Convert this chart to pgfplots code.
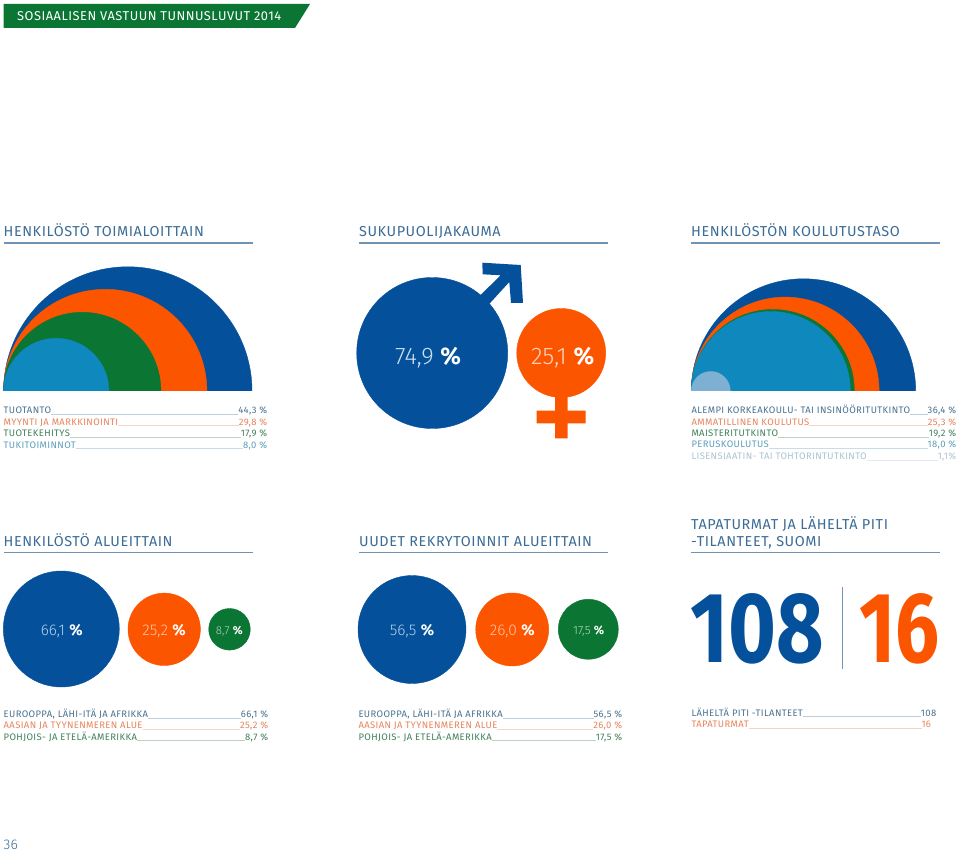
\documentclass[border=0pt]{standalone}
\usepackage{fontspec}
\usepackage{pgfplots}
\pgfplotsset{compat=1.18}
\setmainfont{Fira Sans}
\newfontfamily\din[LetterSpace=4]{Fira Sans}
\newfontfamily\dinl{Fira Sans Light}
\definecolor{cblue}{HTML}{04509B}
\definecolor{corange}{HTML}{FC5500}
\definecolor{cgreen}{HTML}{0B7533}
\definecolor{clight}{HTML}{0F88BE}
\definecolor{cpale}{HTML}{7DB0D2}
\definecolor{ctitle}{HTML}{3B6C96}
\definecolor{crule}{HTML}{6F93B5}
\definecolor{tblue}{HTML}{48708F}
\definecolor{torange}{HTML}{E8825A}
\definecolor{tgreen}{HTML}{3F7F5A}
\definecolor{tlight}{HTML}{5C9DB9}
\definecolor{tpale}{HTML}{A9C3D1}

\pgfplotsset{
  page/.style={width=960pt,height=853pt,scale only axis,hide axis,
    xmin=0,xmax=960,ymin=0,ymax=853,y dir=reverse,clip=false},
  bubble/.style={scatter,only marks,mark=*,scatter src=x,
    scatter/use mapped color={draw=#1,fill=#1},
    visualization depends on={\thisrow{r}\as\rad},
    scatter/@pre marker code/.append style={/tikz/mark size=\rad}},
  shape/.style={fill=#1,draw=none,mark=none},
}
% label ___ value row, x y width colour label value
\newcommand{\tabrow}[6]{\node[anchor=base west,inner sep=0pt,text=#4] at (axis cs:#1,#2)
  {\din\fontsize{9.45}{11}\selectfont\hbox to #3pt{#5{\color{#4!35!white}\leaders\hrule height -0.4pt depth 0.9pt\hfill}#6}};}
\newcommand{\sect}[3]{\node[anchor=base west,inner sep=0pt,text=ctitle] at (axis cs:#1,#2)
  {\din\fontsize{14.4}{16}\selectfont #3};}
\newcommand{\bub}[5]{\node[inner sep=0pt,text=#4] at (axis cs:#1,#2)
  {\fontsize{#3}{#3}\selectfont\dinl #5 \textcolor{white}{\bfseries\rmfamily\%}};}

\begin{document}
\begin{tikzpicture}
\useasboundingbox (0,0) rectangle (960pt,853pt);

% half circles, clipped at their common baseline
\begin{axis}[width=960pt,height=391pt,scale only axis,hide axis,at={(0pt,462pt)},anchor=south west,
  xmin=0,xmax=960,ymin=0,ymax=391,y dir=reverse,clip=true,clip marker paths=true]
\addplot[bubble=cblue] table {
x y r
127.8 391 124.2
803.5 391 112.2
};
\addplot[bubble=corange] table {
x y r
105.2 391 101.7
785.2 391 93.9
};
\addplot[bubble=cgreen] table {
x y r
82.2 391 78.7
772.8 391 81.5
};
\addplot[bubble=clight] table {
x y r
56.2 391 52.7
770.8 391 79.5
};
\addplot[bubble=cpale] table {
x y r
710.8 391 19.5
};
\end{axis}

% shapes and full circles
\begin{axis}[page]
\addplot[shape=cgreen] coordinates {(3.5,4) (310,4) (295,28) (3.5,28)} --cycle;
\addplot[crule,line width=1.3pt,mark=none] coordinates {(3.5,243) (253,243)};
\addplot[crule,line width=1.3pt,mark=none] coordinates {(359,243) (608,243)};
\addplot[crule,line width=1.3pt,mark=none] coordinates {(691,243) (940,243)};
\addplot[crule,line width=1.3pt,mark=none] coordinates {(3.5,552.7) (253,552.7)};
\addplot[crule,line width=1.3pt,mark=none] coordinates {(359,552.7) (608,552.7)};
\addplot[crule,line width=1.3pt,mark=none] coordinates {(691,552.7) (940,552.7)};
\addplot[crule,line width=1.2pt,mark=none] coordinates {(842.7,587.3) (842.7,669.3)};

\addplot[shape=cblue] coordinates {(482.3,262.7) (520.7,265) (523,303) (511,303) (509.3,282) (470,325) (460,315) (500.7,275.3) (482.7,274.3)} --cycle;
\addplot[shape=corange] coordinates {(555,390) (567.7,390) (567.7,410.7) (585.7,410.7) (585.7,423.3) (567.7,423.3) (567.7,438.3) (555,438.3) (555,423.3) (536.7,423.3) (536.7,410.7) (555,410.7)} --cycle;

\addplot[bubble=cblue] table {
x y r
432.2 353 75.5
61.3 629 58
412 629.5 54
};
\addplot[bubble=corange] table {
x y r
561.2 353 44.5
164.2 629.3 36.2
512.2 629.5 36.5
};
\addplot[bubble=cgreen] table {
x y r
229.5 629.3 20.8
588.3 629.3 30
};
\end{axis}

% all text on top
\begin{axis}[page]
\addplot[draw=none,forget plot] coordinates {(0,0) (960,853)};
\node[anchor=base west,inner sep=0pt,text=white] at (axis cs:17,21)
  {\din\fontsize{12.8}{15}\selectfont SOSIAALISEN VASTUUN TUNNUSLUVUT 2014};

\sect{3.5}{236}{HENKILÖSTÖ TOIMIALOITTAIN}
\sect{359}{236}{SUKUPUOLIJAKAUMA}
\sect{691}{236}{HENKILÖSTÖN KOULUTUSTASO}
\sect{3.5}{546}{HENKILÖSTÖ ALUEITTAIN}
\sect{359}{546}{UUDET REKRYTOINNIT ALUEITTAIN}
\sect{691}{529}{TAPATURMAT JA LÄHELTÄ PITI}
\sect{691}{546}{-TILANTEET, SUOMI}

\bub{428}{357.5}{24}{cpale!40!white}{74,9}
\bub{562.7}{357.5}{24}{corange!25!white}{25,1}
\bub{61.7}{631.5}{15.5}{cpale!60!white}{66,1}
\bub{164}{631.5}{15.5}{corange!35!white}{25,2}
\bub{229.3}{631}{11.5}{cgreen!30!white}{8,7}
\bub{412}{631.5}{15.5}{cpale!60!white}{56,5}
\bub{512.3}{631.5}{15.5}{corange!35!white}{26,0}
\bub{588.7}{631}{12}{cgreen!30!white}{17,5}

\node[anchor=base west,inner sep=0pt,text=cblue] at (axis cs:690,662.7)
  {\scalebox{0.82}[1]{\fontsize{100}{100}\selectfont\bfseries 108}};
\node[anchor=base west,inner sep=0pt,text=corange] at (axis cs:859,662.7)
  {\scalebox{0.78}[1]{\fontsize{100}{100}\selectfont\bfseries 16}};

\tabrow{3.5}{413.3}{263.5}{tblue}{TUOTANTO}{44,3 \%}
\tabrow{3.5}{425}{263.5}{torange}{MYYNTI JA MARKKINOINTI}{29,8 \%}
\tabrow{3.5}{436.7}{263.5}{tgreen}{TUOTEKEHITYS}{17,9 \%}
\tabrow{3.5}{448}{263.5}{tlight}{TUKITOIMINNOT}{8,0 \%}

\tabrow{691.3}{413.3}{264.7}{tblue}{ALEMPI KORKEAKOULU- TAI INSINÖÖRITUTKINTO}{36,4 \%}
\tabrow{691.3}{425}{264.7}{torange}{AMMATILLINEN KOULUTUS}{25,3 \%}
\tabrow{691.3}{436.3}{264.7}{tgreen}{MAISTERITUTKINTO}{19,2 \%}
\tabrow{691.3}{447.7}{264.7}{tlight}{PERUSKOULUTUS}{18,0 \%}
\tabrow{691.3}{459.3}{264.7}{tpale}{LISENSIAATIN- TAI TOHTORINTUTKINTO}{1,1\%}

\tabrow{3.5}{717.3}{264.5}{tblue}{EUROOPPA, LÄHI-ITÄ JA AFRIKKA}{66,1 \%}
\tabrow{3.5}{728.7}{264.5}{torange}{AASIAN JA TYYNENMEREN ALUE}{25,2 \%}
\tabrow{3.5}{740}{264.5}{tgreen}{POHJOIS- JA ETELÄ-AMERIKKA}{8,7 \%}

\tabrow{358.3}{717.3}{263.7}{tblue}{EUROOPPA, LÄHI-ITÄ JA AFRIKKA}{56,5 \%}
\tabrow{358.3}{728.7}{263.7}{torange}{AASIAN JA TYYNENMEREN ALUE}{26,0 \%}
\tabrow{358.3}{740}{263.7}{tgreen}{POHJOIS- JA ETELÄ-AMERIKKA}{17,5 \%}

\tabrow{691.3}{716}{244.7}{tblue}{LÄHELTÄ PITI -TILANTEET}{108}
\tabrow{691.3}{727.7}{239.5}{torange}{TAPATURMAT}{16}

\node[anchor=base west,inner sep=0pt,text=ctitle] at (axis cs:3.5,849)
  {\dinl\fontsize{14}{16}\selectfont 36};
\end{axis}
\end{tikzpicture}
\end{document}
